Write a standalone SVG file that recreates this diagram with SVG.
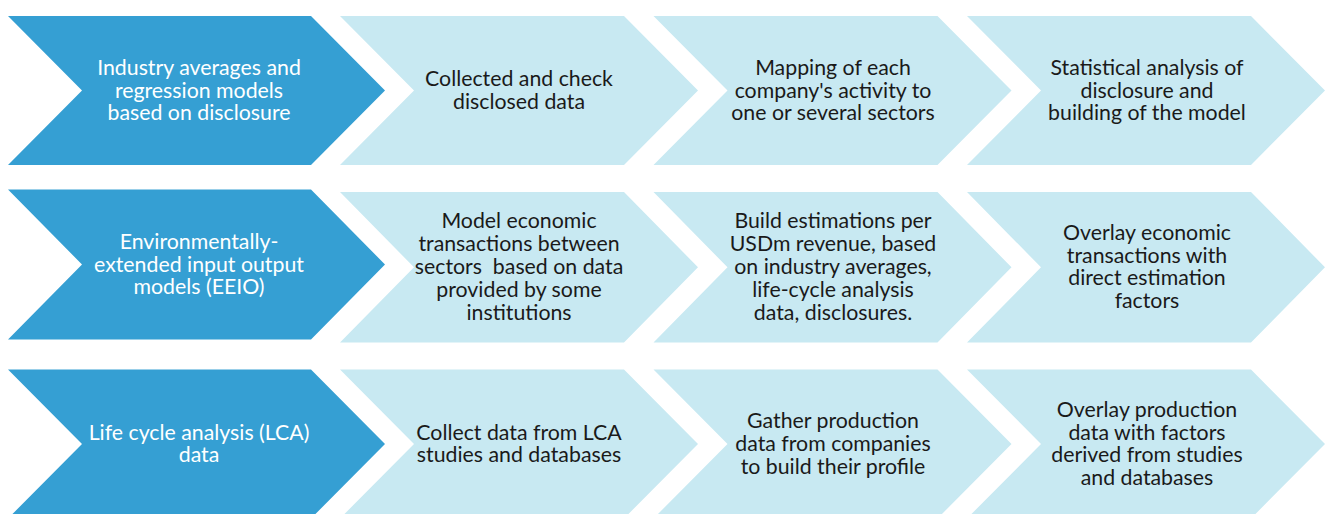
<svg xmlns="http://www.w3.org/2000/svg" width="1331" height="514" viewBox="0 0 1331 514">
<style>
.dark{fill:#359fd3}
.light{fill:#c8e9f2}
text{font-family:Lato,"Open Sans","Liberation Sans",sans-serif;font-size:21.3px;text-anchor:middle}
.tw{fill:#ffffff}
.tb{fill:#1a1a1a}
</style>
<rect width="1331" height="514" fill="#ffffff"/>
<g id="nodes">
<!-- Row 1 -->
<g id="r1c1">
<polygon class="dark" points="8,16 311,16 385,90.5 311,165 8,165 82,90.5"/>
<text class="tw"><tspan x="199" y="75">Industry averages and</tspan><tspan x="199" y="97.5">regression models</tspan><tspan x="199" y="120">based on disclosure</tspan></text>
</g>
<g id="r1c2">
<polygon class="light" points="340,16 624,16 698,90.5 624,165 340,165 414,90.5"/>
<text class="tb"><tspan x="519" y="86">Collected and check</tspan><tspan x="519" y="109">disclosed data</tspan></text>
</g>
<g id="r1c3">
<polygon class="light" points="653.5,16 937.5,16 1011.5,90.5 937.5,165 653.5,165 727.5,90.5"/>
<text class="tb"><tspan x="833" y="75">Mapping of each</tspan><tspan x="833" y="97.5">company's activity to</tspan><tspan x="833" y="120">one or several sectors</tspan></text>
</g>
<g id="r1c4">
<polygon class="light" points="967,16 1251,16 1325,90.5 1251,165 967,165 1041,90.5"/>
<text class="tb"><tspan x="1147" y="75">Statistical analysis of</tspan><tspan x="1147" y="97.5">disclosure and</tspan><tspan x="1147" y="120">building of the model</tspan></text>
</g>
<!-- Row 2 -->
<g id="r2c1">
<polygon class="dark" points="8,189.5 311,189.5 385,264.5 311,339.5 8,339.5 82,264.5"/>
<text class="tw"><tspan x="199" y="249">Environmentally-</tspan><tspan x="199" y="271.5">extended input output</tspan><tspan x="199" y="294">models (EEIO)</tspan></text>
</g>
<g id="r2c2">
<polygon class="light" points="340,192 624,192 698,267.3 624,342.5 340,342.5 414,267.3"/>
<text class="tb"><tspan x="519" y="228">Model economic</tspan><tspan x="519" y="251">transactions between</tspan><tspan x="519" y="274">sectors&#160; based on data</tspan><tspan x="519" y="297">provided by some</tspan><tspan x="519" y="320">institutions</tspan></text>
</g>
<g id="r2c3">
<polygon class="light" points="653.5,192 937.5,192 1011.5,267.3 937.5,342.5 653.5,342.5 727.5,267.3"/>
<text class="tb"><tspan x="833" y="228">Build estimations per</tspan><tspan x="833" y="251">USDm revenue, based</tspan><tspan x="833" y="274">on industry averages,</tspan><tspan x="833" y="297">life-cycle analysis</tspan><tspan x="833" y="320">data, disclosures.</tspan></text>
</g>
<g id="r2c4">
<polygon class="light" points="967,192 1251,192 1325,267.3 1251,342.5 967,342.5 1041,267.3"/>
<text class="tb"><tspan x="1147" y="240">Overlay economic</tspan><tspan x="1147" y="262.7">transactions with</tspan><tspan x="1147" y="285.3">direct estimation</tspan><tspan x="1147" y="308">factors</tspan></text>
</g>
<!-- Row 3 -->
<g id="r3c1">
<polygon class="dark" points="8,369.5 311,369.5 385,444 311,518.5 8,518.5 82,444"/>
<text class="tw"><tspan x="199" y="439.5">Life cycle analysis (LCA)</tspan><tspan x="199" y="462.3">data</tspan></text>
</g>
<g id="r3c2">
<polygon class="light" points="340,369.5 624,369.5 698,444 624,518.5 340,518.5 414,444"/>
<text class="tb"><tspan x="519" y="439.5">Collect data from LCA</tspan><tspan x="519" y="462.3">studies and databases</tspan></text>
</g>
<g id="r3c3">
<polygon class="light" points="653.5,369.5 937.5,369.5 1011.5,444 937.5,518.5 653.5,518.5 727.5,444"/>
<text class="tb"><tspan x="833" y="428">Gather production</tspan><tspan x="833" y="451">data from companies</tspan><tspan x="833" y="474">to build their profile</tspan></text>
</g>
<g id="r3c4">
<polygon class="light" points="967,369.5 1251,369.5 1325,444 1251,518.5 967,518.5 1041,444"/>
<text class="tb"><tspan x="1147" y="416.7">Overlay production</tspan><tspan x="1147" y="439.5">data with factors</tspan><tspan x="1147" y="462.3">derived from studies</tspan><tspan x="1147" y="485">and databases</tspan></text>
</g>
</g>
<g id="connectors"></g>
</svg>
